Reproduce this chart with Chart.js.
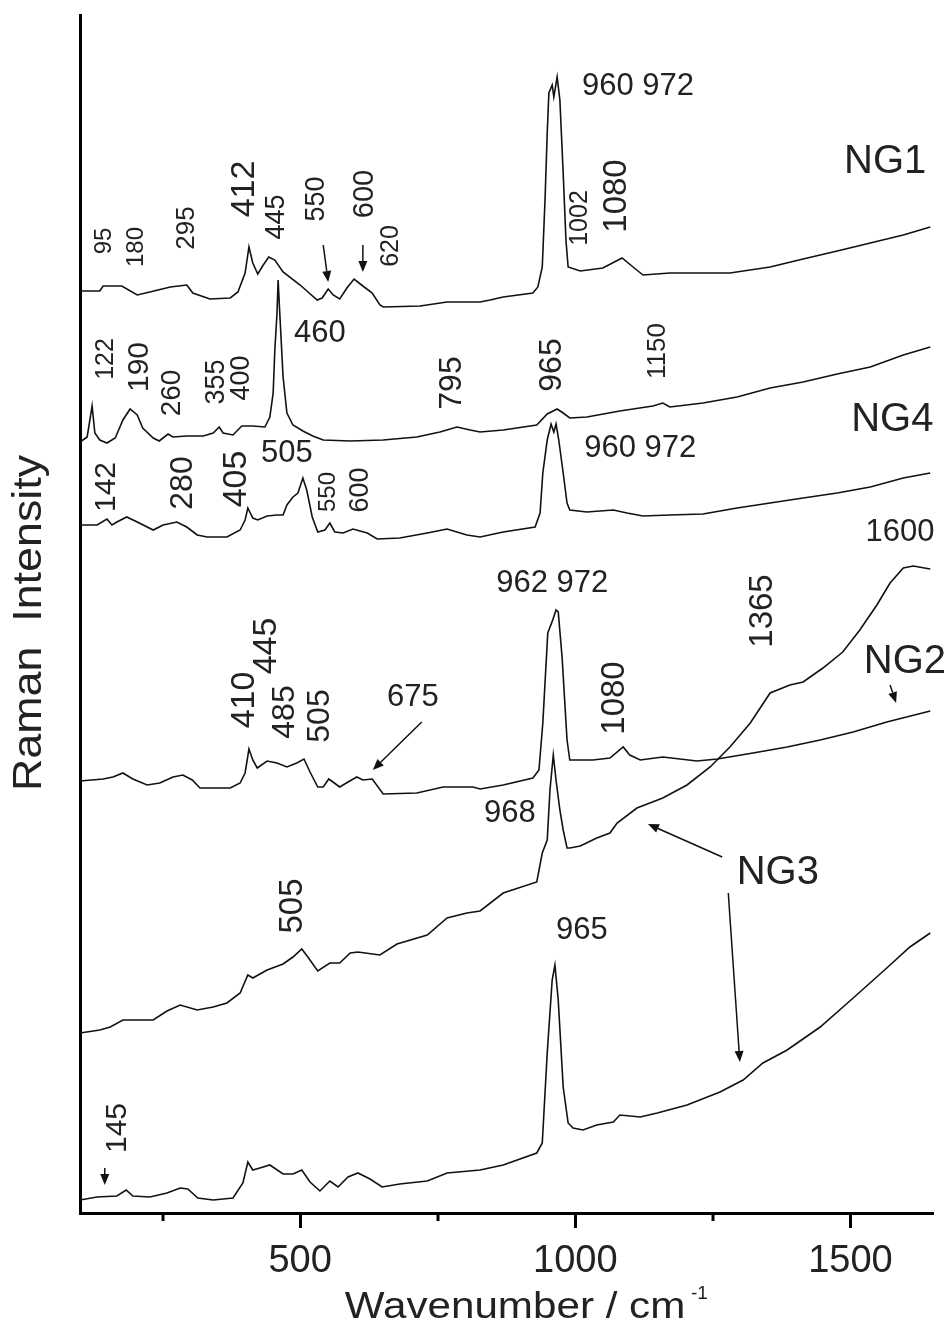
<!DOCTYPE html>
<html>
<head>
<meta charset="utf-8">
<script src="https://cdn.jsdelivr.net/npm/chart.js@4.4.0/dist/chart.umd.min.js"></script>
<style>
  body { margin: 0; background: #fff; }
  #wrap { width: 950px; height: 1327px; }
</style>
</head>
<body>
<div id="wrap"><canvas id="ramanChart" width="950" height="1327"></canvas></div>
<script>
// wavenumber (cm-1) and intensity (a.u., stacked with offsets)
var ng1Wn  = [100,136,142,176,204,227,264,294,305,336,373,387,400,407,414,423,433,443,454,469,500,531,540,551,560,572,585,598,614,631,645,651,718,767,827,845,869,923,932,940,945,949,952,958,961,967,972,978,983,987,1009,1050,1085,1105,1123,1172,1281,1354,1414,1476,1536,1596,1645];
var ng1Int = [922,922,927,927,918,921,926,928,920,914,915,921,940,966,950,939,948,956,953,941,928,913,915,924,918,914,925,934,927,920,908,906,907,911,911,913,916,920,926,946,1013,1080,1120,1128,1116,1136,1113,1040,973,946,942,945,955,946,938,940,940,946,954,962,970,978,986];

var ng4Wn  = [100,113,122,127,136,149,164,178,191,204,214,233,244,260,269,294,324,342,353,360,378,394,414,436,445,451,454,458,460,463,469,476,487,505,523,542,591,651,712,754,785,809,827,869,930,949,967,978,990,1021,1081,1141,1159,1172,1232,1294,1354,1414,1476,1536,1596,1645];
var ng4Int = [771,776,807,780,773,770,775,793,804,798,785,775,772,779,776,777,777,780,786,780,778,787,787,786,796,820,863,900,933,900,836,800,788,782,777,773,772,773,776,781,786,783,781,783,788,799,804,800,795,796,802,807,810,806,810,816,825,831,839,846,858,866];

var ngbWn  = [100,131,149,158,167,185,204,233,251,276,294,313,331,367,391,400,405,414,423,440,458,469,476,487,496,505,512,522,532,545,554,563,578,596,622,640,681,731,767,803,827,869,927,936,941,949,956,961,965,970,978,985,990,1021,1069,1094,1123,1172,1232,1294,1354,1414,1476,1536,1596,1645];
var ngbInt = [688,688,694,688,691,696,691,683,688,691,686,678,676,676,683,693,705,695,693,697,698,698,708,716,720,735,723,696,681,683,690,681,680,684,680,674,675,680,684,678,676,681,686,700,740,773,789,781,789,773,740,710,703,701,703,700,697,698,699,705,710,715,720,726,735,740];

var ng2Wn  = [100,142,160,178,196,222,245,269,287,304,318,373,391,400,407,414,422,440,458,476,494,507,518,532,542,552,572,587,603,614,631,651,712,760,814,827,869,923,934,941,950,959,965,969,976,985,990,1032,1063,1087,1099,1118,1159,1221,1258,1323,1385,1445,1505,1566,1645];
var ng2Int = [432,434,436,440,434,428,430,436,438,433,425,425,430,440,464,453,445,452,450,446,450,454,441,426,426,434,426,431,436,433,434,419,420,426,426,424,428,435,443,490,580,593,603,601,556,473,453,453,455,466,458,453,456,452,454,460,466,473,481,491,502];

var ng3aWn  = [100,136,155,178,209,233,258,282,313,342,367,391,405,414,440,469,487,503,514,532,554,572,591,605,645,676,731,767,803,827,869,930,940,949,954,960,965,972,978,985,990,1009,1039,1063,1076,1112,1159,1203,1245,1281,1318,1354,1390,1414,1450,1486,1517,1548,1572,1596,1614,1645];
var ng3aInt = [180,183,186,193,193,193,202,208,203,206,210,220,238,235,243,249,256,264,256,242,250,250,260,261,258,269,278,295,300,302,320,331,360,373,423,458,433,403,383,365,365,367,375,380,390,405,415,428,446,466,490,520,528,531,545,561,583,608,630,645,647,644];

var ng3bWn  = [100,131,167,184,196,227,258,282,296,314,342,378,396,405,414,427,445,469,487,503,518,536,554,569,587,605,627,649,681,731,767,827,869,930,940,949,958,963,969,978,987,996,1014,1039,1069,1081,1118,1149,1203,1263,1305,1341,1385,1445,1505,1566,1608,1645];
var ng3bInt = [13,16,17,23,17,16,20,25,24,15,13,15,30,51,43,45,48,39,39,43,31,22,32,26,36,40,34,26,29,32,40,43,48,60,70,160,233,248,213,126,90,85,83,88,91,98,96,100,108,121,133,150,163,186,215,245,266,280];

var majorTicks = [500, 1000, 1500];
var minorTicks = [250, 750, 1250];

// peak labels: [text, wavenumber, intensity, font size, rotated]
var peakLabels = [
  ['95', 145, 972, 24, true], ['180', 202, 966, 24, true], ['295', 294, 985, 26, true],
  ['412', 400, 1024, 34, true], ['445', 458, 996, 27, true], ['550', 529, 1014, 27, true],
  ['600', 618, 1019, 29, true], ['620', 665, 967, 25, true], ['1002', 1009, 995, 25, true],
  ['1080', 1076, 1017, 33, true],
  ['122', 147, 854, 25, true], ['190', 209, 846, 30, true], ['260', 267, 820, 28, true],
  ['355', 349, 831, 27, true], ['400', 394, 835, 27, true], ['795', 776, 830, 32, true],
  ['965', 958, 848, 32, true], ['1150', 1150, 862, 26, true],
  ['142', 149, 726, 30, true], ['280', 287, 730, 32, true], ['405', 385, 734, 34, true],
  ['550', 551, 721, 24, true], ['600', 609, 723, 27, true],
  ['410', 400, 513, 34, true], ['445', 440, 567, 34, true], ['485', 473, 501, 32, true],
  ['505', 536, 497, 32, true], ['1080', 1072, 515, 33, true], ['1365', 1341, 602, 33, true],
  ['505', 487, 307, 33, true], ['145', 169, 85, 30, true],
  ['960 972', 1114, 1127, 31, false], ['460', 536, 880, 31, false], ['505', 476, 760, 31, false],
  ['960 972', 1118, 765, 31, false], ['1600', 1590, 681, 31, false], ['962 972', 958, 630, 31, false],
  ['675', 705, 516, 31, false], ['968', 881, 400, 31, false], ['965', 1012, 283, 31, false],
  ['NG1', 1563, 1051, 40, false], ['NG4', 1576, 793, 40, false],
  ['NG2', 1599, 551, 40, false], ['NG3', 1368, 340, 40, false]
];

// arrows: [fromWn, fromInt, toWn, toInt]
var arrows = [
  [542, 968, 551, 931], [614, 968, 614, 941], [721, 491, 632, 443],
  [1572, 528, 1583, 510], [1267, 356, 1132, 389], [1278, 320, 1299, 151],
  [145, 45, 145, 28]
];

function pairs(wn, inten) {
  var out = [];
  for (let i = 0; i < wn.length; i++) {
    out.push({ x: wn[i], y: inten[i] });
  }
  return out;
}

function spectrum(label, wn, inten) {
  return {
    label: label,
    data: pairs(wn, inten),
    borderColor: '#111',
    borderWidth: 1.6,
    pointRadius: 0,
    tension: 0,
    fill: false
  };
}

var datasetsRaman = [
  spectrum('NG1', ng1Wn, ng1Int),
  spectrum('NG4', ng4Wn, ng4Int),
  spectrum('NG4b', ngbWn, ngbInt),
  spectrum('NG2', ng2Wn, ng2Int),
  spectrum('NG3a', ng3aWn, ng3aInt),
  spectrum('NG3b', ng3bWn, ng3bInt)
];

var FONT = '"Liberation Sans", Arial, sans-serif';

var annotatePlugin = {
  id: 'annotate',
  afterDraw(chart) {
    const ctx = chart.ctx;
    const xs = chart.scales.x;
    const ys = chart.scales.y;
    const bottom = chart.chartArea.bottom;

    // minor ticks
    ctx.save();
    ctx.strokeStyle = '#000';
    ctx.lineWidth = 3;
    minorTicks.forEach(v => {
      const px = Math.round(xs.getPixelForValue(v));
      ctx.beginPath();
      ctx.moveTo(px, bottom);
      ctx.lineTo(px, bottom + 8);
      ctx.stroke();
    });
    ctx.restore();

    // peak labels
    ctx.save();
    ctx.fillStyle = '#222';
    ctx.textAlign = 'center';
    ctx.textBaseline = 'middle';
    peakLabels.forEach(l => {
      const px = xs.getPixelForValue(l[1]);
      const py = ys.getPixelForValue(l[2]);
      ctx.font = l[3] + 'px ' + FONT;
      ctx.save();
      ctx.translate(px, py);
      if (l[4]) ctx.rotate(-Math.PI / 2);
      ctx.fillText(l[0], 0, 0);
      ctx.restore();
    });
    ctx.restore();

    // arrows
    ctx.save();
    ctx.strokeStyle = '#111';
    ctx.fillStyle = '#111';
    ctx.lineWidth = 1.5;
    arrows.forEach(a => {
      const x1 = xs.getPixelForValue(a[0]), y1 = ys.getPixelForValue(a[1]);
      const x2 = xs.getPixelForValue(a[2]), y2 = ys.getPixelForValue(a[3]);
      const ang = Math.atan2(y2 - y1, x2 - x1);
      const hl = 11, hw = 4.5;
      ctx.beginPath();
      ctx.moveTo(x1, y1);
      ctx.lineTo(x2 - hl * Math.cos(ang), y2 - hl * Math.sin(ang));
      ctx.stroke();
      ctx.beginPath();
      ctx.moveTo(x2, y2);
      ctx.lineTo(x2 - hl * Math.cos(ang) + hw * Math.sin(ang), y2 - hl * Math.sin(ang) - hw * Math.cos(ang));
      ctx.lineTo(x2 - hl * Math.cos(ang) - hw * Math.sin(ang), y2 - hl * Math.sin(ang) + hw * Math.cos(ang));
      ctx.closePath();
      ctx.fill();
    });
    ctx.restore();

    // axis titles
    ctx.save();
    ctx.fillStyle = '#222';
    ctx.font = '37px ' + FONT;
    ctx.textAlign = 'center';
    ctx.textBaseline = 'alphabetic';
    ctx.save();
    ctx.translate(515, 1318);
    ctx.scale(1.14, 1);
    ctx.fillText('Wavenumber / cm', 0, 0);
    ctx.restore();
    ctx.font = '19px ' + FONT;
    ctx.textAlign = 'left';
    ctx.fillText('-1', 691, 1299);

    ctx.font = '40px ' + FONT;
    ctx.textAlign = 'center';
    ctx.textBaseline = 'middle';
    ctx.translate(30, 623);
    ctx.rotate(-Math.PI / 2);
    ctx.scale(1.12, 1);
    ctx.fillText('Raman  Intensity', 0, 0);
    ctx.restore();
  }
};

var configRaman = {
  type: 'line',
  data: { datasets: datasetsRaman },
  plugins: [annotatePlugin],
  options: {
    responsive: false,
    animation: false,
    layout: { padding: { left: 80, top: 15, right: 17, bottom: 54 } },
    plugins: {
      legend: { display: false },
      title: { display: false },
      tooltip: { enabled: false }
    },
    scales: {
      x: {
        type: 'linear',
        position: 'bottom',
        min: 100,
        max: 1650,
        afterBuildTicks: (scale) => { scale.ticks = majorTicks.map(v => ({ value: v })); },
        afterFit: (scale) => { scale.height = 60; },
        ticks: {
          color: '#222',
          padding: 11,
          font: { size: 38, family: FONT },
          callback: (value) => String(value)
        },
        grid: {
          drawOnChartArea: false,
          drawTicks: true,
          tickLength: 15,
          tickWidth: 3,
          tickColor: '#000'
        },
        border: { display: true, color: '#000', width: 3 }
      },
      y: {
        type: 'linear',
        position: 'left',
        min: 0,
        max: 1198,
        afterFit: (scale) => { scale.width = 0; },
        ticks: { display: false },
        grid: { display: false, drawTicks: false },
        border: { display: true, color: '#000', width: 3 }
      }
    }
  }
};

function showchart() {
  const ctxRaman = document.getElementById('ramanChart');
  let chartRaman = Chart.getChart(ctxRaman);
  if (chartRaman) {
    chartRaman.destroy();
  }
  chartRaman = new Chart(ctxRaman, configRaman);
}

window.onload = function () {
  showchart();
};
</script>
</body>
</html>
